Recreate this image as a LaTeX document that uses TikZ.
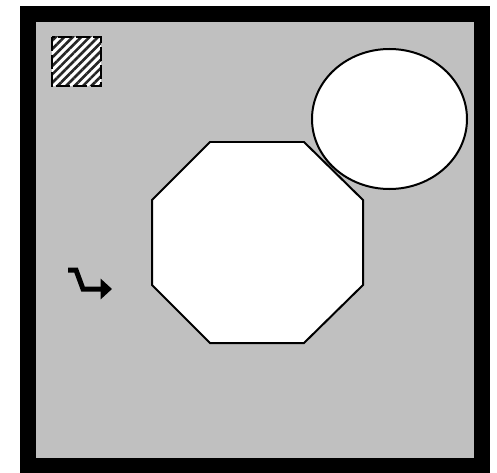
\documentclass[tikz,border=0pt]{standalone}
\usetikzlibrary{arrows.meta,patterns.meta}
\definecolor{panelgray}{HTML}{C0C0C0}
\begin{document}
\begin{tikzpicture}[x=0.02cm,y=-0.02cm,
	piece/.style={draw=black,fill=white,line width=0.04cm}]
	\useasboundingbox (0,0) rectangle (497,473);
	% frame
	\draw[line width=0.32cm,fill=panelgray](28,14) rectangle (481.5,466);
	% hatched swatch
	\fill[white](52,37) rectangle (101,86);
	\draw[line width=0.04cm,dash pattern=on 8pt off 2pt,pattern={Lines[angle=45,distance=3.4pt,line width=1.5pt]},pattern color=black!85](52,37) rectangle (101,86);
	% bent arrow
	\draw[line width=0.1cm,-{Triangle[length=6.5pt,width=11.5pt]}](68,270)--(76,270)--(83,289)--(112,289);
	% octagon
	\draw[piece](210,142)--(304,142)--(363,200)--(363,285)--(304,343)--(210,343)--(152,285)--(152,200)--cycle;
	% ellipse
	\draw[piece](389.5,119) ellipse [x radius=77.5,y radius=70];
\end{tikzpicture}
\end{document}
